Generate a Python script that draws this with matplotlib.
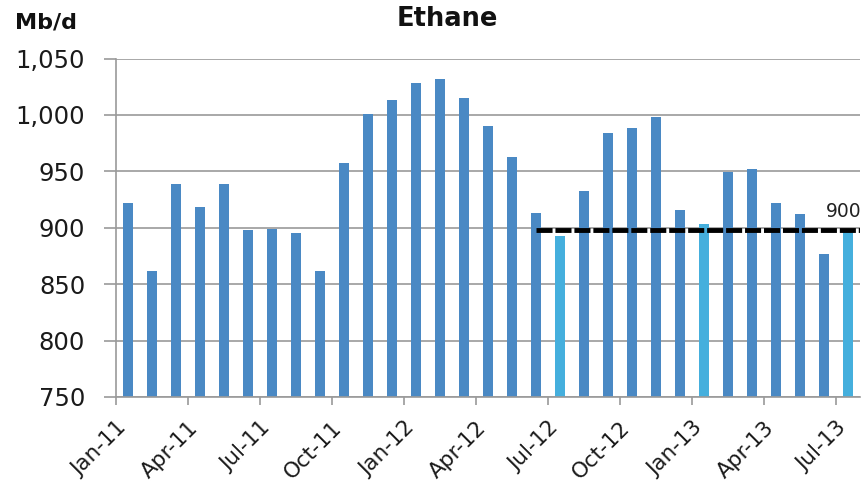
import numpy as np
import matplotlib.pyplot as plt
from matplotlib.transforms import ScaledTranslation

# ── Data ──────────────────────────────────────────────────────────────────────
months = ['Jan-11', 'Feb-11', 'Mar-11', 'Apr-11', 'May-11', 'Jun-11',
          'Jul-11', 'Aug-11', 'Sep-11', 'Oct-11', 'Nov-11', 'Dec-11',
          'Jan-12', 'Feb-12', 'Mar-12', 'Apr-12', 'May-12', 'Jun-12',
          'Jul-12', 'Aug-12', 'Sep-12', 'Oct-12', 'Nov-12', 'Dec-12',
          'Jan-13', 'Feb-13', 'Mar-13', 'Apr-13', 'May-13', 'Jun-13',
          'Jul-13']
ethane = [922, 862, 939, 918, 939, 898,
          899, 895, 862, 957, 1001, 1013,
          1028, 1032, 1015, 990, 963, 913,
          893, 933, 984, 988, 998, 916,
          903, 949, 952, 922, 912, 877,
          897]
highlight = ['Jul-12', 'Jan-13', 'Jul-13']
target_value = 898
target_label = '900'
target_start = 'Jun-12'

# ── Plot ──────────────────────────────────────────────────────────────────────
DARK = '#4a89c4'
LIGHT = '#45afdd'
GRID = '#9a9a9a'
TXT = '#1a1a1a'

x = np.arange(len(months))
colors = [LIGHT if m in highlight else DARK for m in months]

fig = plt.figure(figsize=(8.65, 4.9), dpi=100)
ax = fig.add_axes([0.1338, 0.1898, 0.9942 - 0.1338, 0.8806 - 0.1898])

ax.bar(x, ethane, width=0.41, color=colors, zorder=2)

# linha de referência (900)
i0 = months.index(target_start)
ax.hlines(target_value, i0, len(months) - 0.5, colors='black', lw=3.5,
          linestyles=(0, (3.3, 0.6)), zorder=3)
ax.text(len(months) - 0.45, target_value + 8, target_label, ha='right',
        va='bottom', fontsize=13.5, color='#222222', zorder=4, clip_on=False)

ax.set_xlim(-0.5, len(months) - 0.5)
ax.set_ylim(750, 1050)
ax.set_yticks(np.arange(750, 1051, 50))
ax.set_yticklabels([f'{v:,}' for v in range(750, 1051, 50)])
ax.yaxis.grid(True, color=GRID, lw=1.2, zorder=0)

tick_idx = x[::3]
ax.set_xticks(tick_idx - 0.5)
ax.set_xticklabels([months[i] for i in tick_idx], rotation=45, ha='right',
                   rotation_mode='anchor')
shift = ScaledTranslation(10 / 100, 0, fig.dpi_scale_trans)
for lbl in ax.get_xticklabels():
    lbl.set_transform(lbl.get_transform() + shift)

for s in ['top', 'right']:
    ax.spines[s].set_visible(False)
for s in ['left', 'bottom']:
    ax.spines[s].set_color(GRID)
    ax.spines[s].set_linewidth(1.2)

ax.tick_params(axis='y', length=9, width=1.2, color=GRID, pad=13,
               labelsize=17.5, labelcolor=TXT)
ax.tick_params(axis='x', length=6, width=1.2, color=GRID, pad=9,
               labelsize=15.5, labelcolor=TXT)

fig.text(0.517, 0.962, 'Ethane', ha='center', va='center',
         fontsize=18.5, fontweight='bold', color='#111111')
fig.text(0.017, 0.955, 'Mb/d', ha='left', va='center',
         fontsize=16, fontweight='bold', color='#111111')

plt.savefig('out.png', dpi=100)
